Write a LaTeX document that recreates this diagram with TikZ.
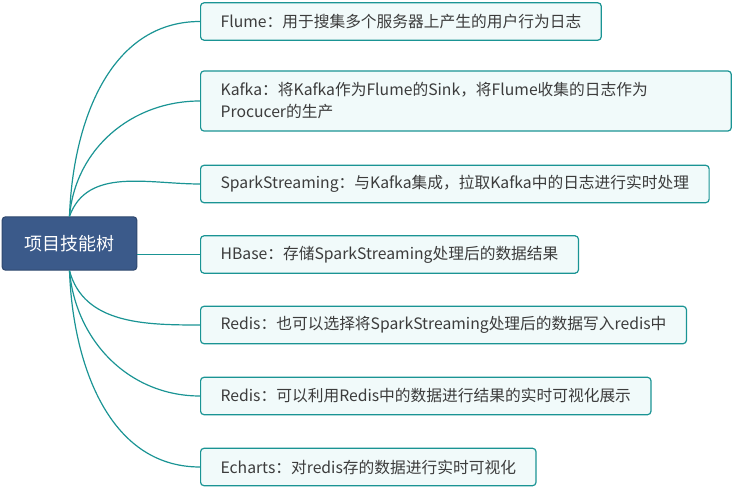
\documentclass[tikz,border=0pt]{standalone}
\usepackage{fontspec}
\setmainfont{Noto Sans CJK SC}
\usetikzlibrary{positioning}
\definecolor{branchteal}{HTML}{1A9494}
\definecolor{rootblue}{HTML}{3B5A8A}
\definecolor{leaffill}{HTML}{F1FAFA}
\definecolor{leaftext}{HTML}{3C3C3C}

\begin{document}
\begin{tikzpicture}[x=0.75pt, y=-0.75pt, thick]
    % Styles
    \tikzstyle{root} = [rectangle, draw=rootblue!80!black, fill=rootblue, rounded corners=2.5pt, minimum width=101pt, minimum height=40pt, text=white, font=\fontsize{13.5}{16}\selectfont]
    \tikzstyle{skill} = [rectangle, draw=branchteal, line width=0.9pt, fill=leaffill, rounded corners=2.5pt, anchor=west, inner xsep=15pt, minimum height=28pt, text=leaftext, font=\fontsize{11.8}{16.5}\selectfont, align=left]
    \tikzstyle{branch} = [draw=branchteal, line width=0.9pt]

    \useasboundingbox (0,0) rectangle (736,488);

    % Root
    \node [root] (tree) at (69.5,243.5) {项目技能树};

    % Skills
    \node [skill] (flume) at (200,21.5) {Flume：用于搜集多个服务器上产生的用户行为日志};
    \node [skill, minimum height=45pt, text width=368pt] (kafka) at (200,101) {Kafka：将Kafka作为Flume的Sink，将Flume收集的日志作为\\Procucer的生产};
    \node [skill] (spark) at (200,184) {SparkStreaming：与Kafka集成，拉取Kafka中的日志进行实时处理};
    \node [skill] (hbase) at (200,254.5) {HBase：存储SparkStreaming处理后的数据结果};
    \node [skill] (redisa) at (200,325) {Redis：也可以选择将SparkStreaming处理后的数据写入redis中};
    \node [skill] (redisb) at (200,396) {Redis：可以利用Redis中的数据进行结果的实时可视化展示};
    \node [skill] (echarts) at (200,467) {Echarts：对redis存的数据进行实时可视化};

    % Branches
    \draw [branch] (tree.north) to [out=88, in=180] (flume.west);
    \draw [branch] (tree.north) to [out=85, in=180] (kafka.west);
    \draw [branch] (tree.north) to [out=70, in=180] (spark.west);
    \draw [branch] (hbase.west -| tree.east) -- (hbase.west);
    \draw [branch] (tree.south) to [out=-75, in=180] (redisa.west);
    \draw [branch] (tree.south) to [out=-85, in=180] (redisb.west);
    \draw [branch] (tree.south) to [out=-88, in=180] (echarts.west);

\end{tikzpicture}
\end{document}
